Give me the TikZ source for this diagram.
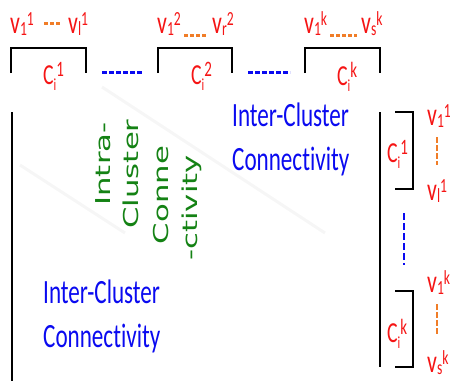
\documentclass[tikz,border=0pt]{standalone}
\usepackage{fontspec}
\setmainfont{Carlito}
\newfontfamily\narrowcal[FakeStretch=0.68,RawFeature={-liga;-clig;-dlig;-calt}]{Carlito}
\newfontfamily\widedejavu[FakeStretch=1.5]{DejaVu Sans}
\usetikzlibrary{positioning}
\definecolor{labred}{RGB}{245,20,20}
\definecolor{memberorange}{RGB}{240,125,40}
\definecolor{interblue}{RGB}{10,10,240}
\definecolor{intragreen}{RGB}{20,130,20}
\definecolor{faintgray}{RGB}{246,246,246}

\newcommand{\vnode}[2]{{\fontsize{32}{32}\selectfont v}\raisebox{-2pt}{\fontsize{20}{20}\selectfont #1}\raisebox{8pt}{\fontsize{20}{20}\selectfont #2}}
\newcommand{\cnode}[1]{{\fontsize{29}{29}\selectfont C}\raisebox{-6pt}{\fontsize{17}{17}\selectfont i}\raisebox{8pt}{\fontsize{22}{22}\selectfont #1}}

\begin{document}
\begin{tikzpicture}[x=1pt,y=-1pt,
  member/.style={text=labred, font=\narrowcal, inner sep=0pt, anchor=base west},
  bracket/.style={line width=2.5pt},
  bigline/.style={line width=2pt},
  orangedash/.style={memberorange, line width=3pt, dash pattern=on 4pt off 2pt},
  orangevdash/.style={memberorange, line width=2.5pt, dash pattern=on 6pt off 2pt},
  interdash/.style={interblue, line width=3pt, dash pattern=on 5pt off 2pt},
  intervdash/.style={interblue, line width=2pt, dash pattern=on 7pt off 3pt},
  intertext/.style={text=interblue, font=\narrowcal\fontsize{34}{44}\selectfont, align=left, inner sep=0pt, anchor=north west},
  intratext/.style={text=intragreen, font=\widedejavu\fontsize{20.5}{20.5}\selectfont, inner sep=0pt, rotate=90}]
\useasboundingbox (0,0) rectangle (450,381);
% faint stripes
\draw[faintgray, line width=3pt] (102,87) -- (325,233);
\draw[faintgray, line width=3pt] (20,165) -- (125,233);

% top row of clusters
\node[member] (v11) at (10,33) {\vnode{1}{1}};
\node[member] (vl1) at (68,33) {\vnode{l}{1}};
\node[member] (v12) at (157,33) {\vnode{1}{2}};
\node[member] (vr2) at (212,33) {\vnode{r}{2}};
\node[member] (v1k) at (304,33) {\vnode{1}{k}};
\node[member] (vsk) at (361,33) {\vnode{s}{k}};
\draw[orangedash, shorten <=10pt, shorten >=6pt] (v11.east) -- (vl1.west);
\draw[orangedash, shorten <=3pt, shorten >=4pt] ([yshift=-2pt]v12.base east) -- ([yshift=-2pt]vr2.base west);
\draw[orangedash, shorten <=3pt, shorten >=4pt] ([yshift=-2pt]v1k.base east) -- ([yshift=-2pt]vsk.base west);

\node[member] (c1) at (43,84) {\cnode{1}};
\node[member] (c2) at (191,84) {\cnode{2}};
\node[member] (ck) at (337,85) {\cnode{k}};
\draw[bracket] (11,73) -- (11,48) -- (86,48) -- (86,73) coordinate (b1r);
\draw[bracket] (158,73) coordinate (b2l) -- (158,48) -- (232,48) -- (232,73) coordinate (b2r);
\draw[bracket] (305,73) coordinate (bkl) -- (305,48) -- (380,48) -- (380,73);
\draw[interdash, shorten <=16pt, shorten >=16pt] ([yshift=1pt]b1r) -- ([yshift=1pt]b2l);
\draw[interdash, shorten <=16pt, shorten >=15pt] ([yshift=1pt]b2r) -- ([yshift=1pt]bkl);

% left and right columns
\draw[bigline] (12,112) -- (12,381);
\draw[bigline] (380,112) -- (380,367);

% right column of clusters
\node[member] (rc1) at (387,162) {\cnode{1}};
\node[member] (rck) at (387,342) {\cnode{k}};
\draw[bracket] (395,112) -- (413,112) -- (413,189) coordinate (r1b) -- (395,189);
\draw[bracket] (395,291) -- (413,291) coordinate (rkt) -- (413,367) -- (395,367);
\draw[intervdash, shorten <=24pt, shorten >=26pt] ([xshift=-9pt]r1b) -- ([xshift=-9pt]rkt);

\node[member] (rv11) at (427,125) {\vnode{1}{1}};
\node[member] (rvl1) at (427,200) {\vnode{l}{1}};
\node[member] (rv1k) at (427,292) {\vnode{1}{k}};
\node[member] (rvsk) at (427,372) {\vnode{s}{k}};
\draw[orangevdash, shorten <=10pt, shorten >=14pt] (rv11.south -| 437,0) -- (rvl1.north -| 437,0);
\draw[orangevdash, shorten <=10pt, shorten >=14pt] (rv1k.south -| 437,0) -- (rvsk.north -| 437,0);

% connectivity labels
\node[intertext] (intertop) at (232,103) {Inter-Cluster\\Connectivity};
\node[intertext] (interbot) at (43,280) {Inter-Cluster\\Connectivity};
\node[intratext] (intra1) at (103,164) {Intra-};
\node[intratext] (intra2) at (131,174) {Cluster};
\node[intratext] (intra3) at (161,195) {Conne};
\node[intratext] (intra4) at (192,208) {-ctivity};
\end{tikzpicture}
\end{document}
